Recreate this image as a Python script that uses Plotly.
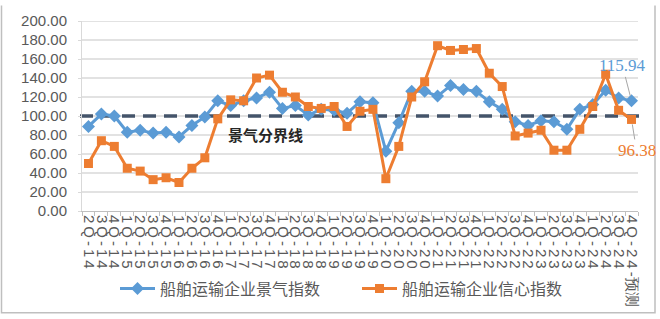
import plotly.graph_objects as go

quarters = ["2Q-14", "3Q-14", "4Q-14",
            "1Q-15", "2Q-15", "3Q-15", "4Q-15",
            "1Q-16", "2Q-16", "3Q-16", "4Q-16",
            "1Q-17", "2Q-17", "3Q-17", "4Q-17",
            "1Q-18", "2Q-18", "3Q-18", "4Q-18",
            "1Q-19", "2Q-19", "3Q-19", "4Q-19",
            "1Q-20", "2Q-20", "3Q-20", "4Q-20",
            "1Q-21", "2Q-21", "3Q-21", "4Q-21",
            "1Q-22", "2Q-22", "3Q-22", "4Q-22",
            "1Q-23", "2Q-23", "3Q-23", "4Q-23",
            "1Q-24", "2Q-24", "3Q-24", "4Q-24-预测"]

prosperity = [89, 102, 100, 83, 85, 82, 83, 78, 90, 99, 116, 111, 116, 119, 125,
              108, 111, 101, 107, 106, 103, 115, 114, 63, 93, 126, 126, 121, 132,
              128, 126, 115, 107, 94, 90, 95, 94, 86, 107, 112, 127, 119, 115.94]

confidence = [50, 74, 68, 45, 42, 33, 35, 30, 45, 56, 97, 117, 116, 140, 143,
              125, 120, 110, 108, 110, 89, 105, 107, 34, 68, 120, 136, 174, 169,
              170, 171, 145, 131, 79, 82, 85, 64, 64, 86, 110, 144, 106, 96.38]

y_ticks = [0, 20, 40, 60, 80, 100, 120, 140, 160, 180, 200]

threshold = 100
threshold_label = "景气分界线"
name_prosperity = "船舶运输企业景气指数"
name_confidence = "船舶运输企业信心指数"

BLUE = "#5B9BD5"
ORANGE = "#ED7D31"
GRAY_TXT = "#595959"

W, H = 660, 319
L, R, T, B = 82, 22, 16, 107
pw, ph = W - L - R, H - T - B

def px_x(x):
    return (x - L) / pw

def px_y(y):
    return (H - B - y) / ph

# tick text: Excel stacks rotated characters with a little extra spacing
def spaced(label):
    ascii_part = "".join(ch for ch in label if ord(ch) < 128)
    cjk_part = label[len(ascii_part):]
    return "\u2009".join(ascii_part) + cjk_part

tick_text = [spaced(q) for q in quarters]

fig = go.Figure()
fig.add_trace(go.Scatter(
    x=quarters, y=prosperity, name=name_prosperity, mode="lines+markers",
    line=dict(color=BLUE, width=3),
    marker=dict(symbol="diamond", size=10, color=BLUE),
    cliponaxis=False,
))
fig.add_trace(go.Scatter(
    x=quarters, y=confidence, name=name_confidence, mode="lines+markers",
    line=dict(color=ORANGE, width=3),
    marker=dict(symbol="square", size=9, color=ORANGE),
    cliponaxis=False,
))

# horizontal gridlines (drawn as shapes so the threshold line can sit on top of them)
for v in y_ticks[1:]:
    fig.add_shape(type="line", xref="paper", yref="y", x0=0, x1=1, y0=v, y1=v,
                  layer="below", line=dict(color="#D9D9D9", width=1.5))

fig.add_shape(type="line", xref="paper", yref="y", x0=px_x(80), x1=px_x(641),
              y0=threshold, y1=threshold, layer="below",
              line=dict(color="#44546A", width=3.5, dash="13px,8px"))

# chart border (left, bottom, right)
fig.add_shape(type="path", xref="paper", yref="paper",
              path=f"M {px_x(1.5)} {px_y(0)} L {px_x(1.5)} {px_y(317)} L {px_x(655)} {px_y(317)} L {px_x(655)} {px_y(0)}",
              line=dict(color="#BFBFBF", width=1.5))

fig.add_annotation(x=13.7, y=81, text=f"<b>{threshold_label}</b>", showarrow=False,
                   font=dict(family="Noto Sans CJK SC", size=15, color="#262626"))

fig.add_annotation(x=quarters[-1], y=prosperity[-1], text=f"{prosperity[-1]:.2f}",
                   showarrow=True, arrowhead=0, arrowcolor="#A6A6A6", arrowwidth=1,
                   ax=-9, ay=-35, standoff=5,
                   font=dict(family="Liberation Serif", size=17, color=BLUE))
fig.add_annotation(x=quarters[-1], y=confidence[-1], text=f"{confidence[-1]:.2f}",
                   showarrow=True, arrowhead=0, arrowcolor="#A6A6A6", arrowwidth=1,
                   ax=5, ay=31, standoff=5,
                   font=dict(family="Liberation Serif", size=17, color=ORANGE))

fig.update_layout(
    width=W, height=H,
    margin=dict(l=L, r=R, t=T, b=B),
    paper_bgcolor="white", plot_bgcolor="white",
    font=dict(family="Liberation Sans", color=GRAY_TXT),
    showlegend=True,
    legend=dict(orientation="h", x=px_x(115), xanchor="left", y=px_y(292), yanchor="middle",
                font=dict(family="Noto Sans CJK SC", size=16, color=GRAY_TXT),
                itemwidth=35, entrywidth=192, tracegroupgap=0, bgcolor="rgba(0,0,0,0)"),
    xaxis=dict(
        type="category", tickmode="array", tickvals=quarters, ticktext=tick_text,
        tickangle=90, tickfont=dict(family="Liberation Sans", size=15, color=GRAY_TXT),
        showgrid=False, showline=True, linecolor="#BFBFBF", linewidth=1,
        ticks="outside", tickson="boundaries", ticklen=4, tickcolor="#BFBFBF",
        range=[-0.5, len(quarters) - 0.5],
    ),
    yaxis=dict(
        range=[y_ticks[0], y_ticks[-1]], tickmode="array", tickvals=y_ticks, tickformat=".2f",
        tickfont=dict(family="Liberation Sans", size=15, color=GRAY_TXT),
        showgrid=False,
        showline=True, linecolor="#D9D9D9", linewidth=1,
        ticks="outside", ticklen=3, tickcolor="#D9D9D9", ticklabelstandoff=8,
        zeroline=False,
    ),
)

fig.write_html("out.html")
